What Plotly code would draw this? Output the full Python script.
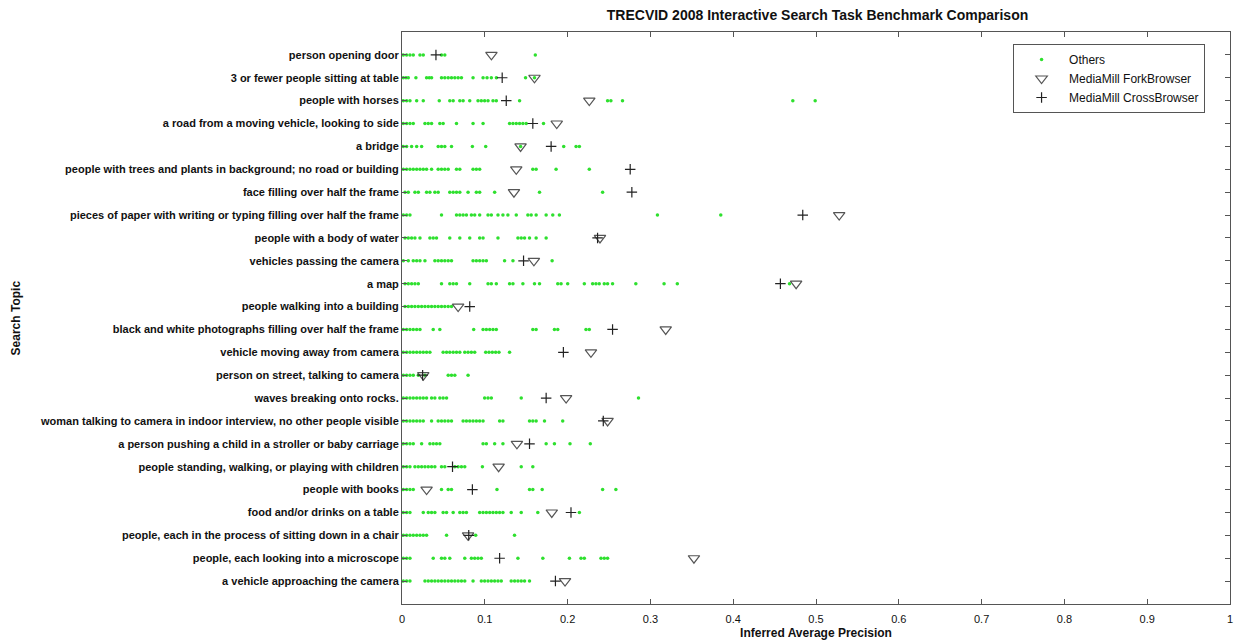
import plotly.graph_objects as go

# Search topics, top to bottom
topics = [
    "person opening door",
    "3 or fewer people sitting at table",
    "people with horses",
    "a road from a moving vehicle, looking to side",
    "a bridge",
    "people with trees and plants in background; no road or building",
    "face filling over half the frame",
    "pieces of paper with writing or typing filling over half the frame",
    "people with a body of water",
    "vehicles passing the camera",
    "a map",
    "people walking into a building",
    "black and white photographs filling over half the frame",
    "vehicle moving away from camera",
    "person on street, talking to camera",
    "waves breaking onto rocks.",
    "woman talking to camera in indoor interview, no other people visible",
    "a person pushing a child in a stroller or baby carriage",
    "people standing, walking, or playing with children",
    "people with books",
    "food and/or drinks on a table",
    "people, each in the process of sitting down in a chair",
    "people, each looking into a microscope",
    "a vehicle approaching the camera",
]

# Inferred average precision of the other submitted runs, per topic
others = [
    [.0016, .0056, .0096, .0136, .0217, .0257, .0477, .0517, .161],
    [.0016, .0048, .0076, .0168, .0297, .0329, .0357, .0477, .0517, .0558, .0598, .0638, .0678, .0718,
     .0858, .0979, .1027, .1079, .114, .1492, .160],
    [.0016, .0056, .0096, .0177, .0257, .045, .0577, .0618, .0698, .0738, .0818, .0918, .0958, .0998,
     .1039, .1099, .1139, .142, .2483, .2523, .2663, .472, .499],
    [.0016, .0056, .0096, .0136, .0277, .0317, .0357, .0457, .0497, .0658, .0858, .0979, .1299, .134,
     .138, .142, .146, .150, .1709],
    [.0016, .0056, .0116, .0177, .0237, .0437, .0477, .0517, .0598, .085, .1011, .1432, .1953, .2102, .2142],
    [.0016, .0056, .0096, .0136, .0177, .0217, .0257, .0297, .0357, .0437, .0477, .0517, .0558, .0658,
     .0698, .0858, .0898, .0938, .158, .162, .1861, .2262],
    [.0036, .0076, .0156, .0197, .0297, .0337, .0397, .0437, .0577, .0618, .0658, .0698, .0798, .0898,
     .0938, .1119, .1661, .2423],
    [.0016, .0056, .0096, .0477, .0658, .0698, .0738, .0778, .0838, .0878, .0938, .1039, .1079, .1159,
     .1219, .1279, .138, .152, .156, .162, .1741, .1821, .1901, .3085, .385],
    [.0036, .0076, .0116, .0156, .0217, .0337, .0377, .0417, .0577, .0698, .0818, .0938, .0979, .1159,
     .140, .144, .148, .154, .162, .1741],
    [.0016, .0076, .0136, .0177, .0217, .0277, .0397, .0437, .0477, .0517, .0558, .0598, .0858, .0898,
     .0938, .0979, .1019, .1239, .134, .1813],
    [.0036, .0076, .0116, .0156, .0197, .0477, .0577, .0618, .0658, .0818, .1039, .1079, .1139, .1299,
     .134, .146, .160, .1661, .1881, .1921, .2001, .2202, .2302, .2342, .2382, .2443, .2483, .2543,
     .2824, .3165, .3325, .468],
    [.0036, .0076, .0116, .0156, .0197, .0237, .0277, .0317, .0357, .0397, .0437, .0477, .0517, .0558, .0598],
    [.0016, .0056, .0096, .0136, .0177, .0217, .0377, .0457, .0866, .0979, .1019, .1059, .1099, .1139,
     .158, .162, .1841, .1881, .2222, .2262],
    [.0016, .0056, .0096, .0136, .0177, .0217, .0257, .0297, .0337, .0497, .0538, .0577, .0618, .0658,
     .0698, .0758, .0798, .0838, .0878, .1011, .1051, .1091, .1131, .1171, .1299],
    [.0016, .0056, .0096, .0136, .0197, .0277, .0558, .0598, .0638, .0798],
    [.0016, .0056, .0096, .0136, .0177, .0217, .0257, .0297, .0357, .0397, .0457, .0497, .0538, .0998,
     .1039, .1079, .144, .2856],
    [.0016, .0056, .0096, .0136, .0177, .0217, .0257, .0357, .0437, .0477, .0517, .0558, .0598, .0738,
     .0778, .0818, .0858, .0898, .0938, .0979, .1179, .1219, .154, .158, .162, .1721, .1941],
    [.0016, .0056, .0096, .0136, .0237, .0337, .0377, .0417, .0457, .0979, .1019, .1119, .1219, .1741,
     .1841, .2029, .2274],
    [.0016, .0056, .0096, .0156, .0197, .0237, .0277, .0317, .0357, .0397, .0477, .0517, .0638, .0678,
     .0718, .0758, .0971, .144, .158],
    [.0016, .0056, .0096, .0136, .0477, .0558, .0598, .1147, .154, .158, .1693, .2423, .2583],
    [.0016, .0056, .0096, .0257, .0317, .0357, .0397, .0497, .0538, .0618, .0698, .0738, .0778, .0938,
     .0979, .1019, .1059, .1099, .1139, .1179, .1219, .1319, .144, .164, .2142],
    [.0016, .0056, .0096, .0136, .0177, .0217, .0257, .0297, .0538, .089, .1359],
    [.0016, .0056, .0096, .0377, .0477, .0517, .0577, .0758, .0838, .0878, .0918, .0958, .140, .1701,
     .2022, .2162, .2202, .2403, .2443, .2483],
    [.0016, .0056, .0096, .0277, .0317, .0357, .0397, .0437, .0477, .0517, .0558, .0598, .0638, .0678,
     .0718, .0758, .0858, .0958, .0998, .1039, .1079, .1119, .1159, .1199, .1319, .136, .140, .144,
     .148, .154],
]

# MediaMill ForkBrowser and CrossBrowser runs, per topic
fork_browser = [.108, .160, .2262, .1869, .1432, .138, .1352, .528, .2391, .1593, .476, .0678,
                .3185, .2282, .0257, .1982, .2483, .1388, .1167, .0297, .1809, .0798, .3526, .1969]
cross_browser = [.041, .121, .1259, .158, .1801, .2756, .2776, .484, .2362, .1468, .457, .0818,
                 .2543, .1949, .0249, .1741, .2431, .154, .061, .085, .2041, .0806, .1179, .1853]

rows = list(range(1, len(topics) + 1))
others_x = [v for vals in others for v in vals]
others_y = [r for r, vals in zip(rows, others) for _ in vals]

font_family = "Liberation Sans, Arial, sans-serif"

fig = go.Figure()
fig.add_trace(go.Scatter(
    x=others_x, y=others_y, mode="markers", name="Others",
    marker=dict(symbol="circle", size=3.5, color="#2ee02e", line=dict(width=0)),
))
fig.add_trace(go.Scatter(
    x=fork_browser, y=rows, mode="markers", name="MediaMill ForkBrowser",
    marker=dict(symbol="triangle-down-open", size=10, color="#555555", line=dict(width=1.2)),
))
fig.add_trace(go.Scatter(
    x=cross_browser, y=rows, mode="markers", name="MediaMill CrossBrowser",
    marker=dict(symbol="cross-thin-open", size=7.5, color="#222222", line=dict(width=1.2)),
))

axis_common = dict(
    showgrid=False, zeroline=False, showline=True, linecolor="#555555", linewidth=1,
    mirror="ticks", ticks="inside", ticklen=5, tickcolor="#555555",
)

fig.update_layout(
    width=1237, height=642,
    margin=dict(l=402, r=4, t=32, b=38),
    paper_bgcolor="white", plot_bgcolor="white",
    font=dict(family=font_family, color="#111111"),
    title=dict(
        text="<b>TRECVID 2008 Interactive Search Task Benchmark Comparison</b>",
        x=(402 + 1233) / 2 / 1237, xanchor="center", y=1 - 15 / 642, yanchor="middle",
        font=dict(size=14, family=font_family, color="#111111"),
    ),
    xaxis=dict(
        range=[0, 1], tickvals=[0, .1, .2, .3, .4, .5, .6, .7, .8, .9, 1],
        ticktext=["0", "0.1", "0.2", "0.3", "0.4", "0.5", "0.6", "0.7", "0.8", "0.9", "1"],
        tickfont=dict(family=font_family, size=11, color="#111111"),
        ticklabelstandoff=5,
        title=dict(text="<b>Inferred Average Precision</b>", standoff=4,
                   font=dict(size=12, family=font_family, color="#111111")),
        **axis_common,
    ),
    yaxis=dict(
        range=[25, 0], tickvals=rows, ticktext=topics,
        tickfont=dict(family=font_family, size=11, color="#111111", weight="bold"),
        **axis_common,
    ),
    annotations=[dict(
        text="<b>Search Topic</b>", textangle=-90, xref="paper", yref="paper",
        x=-(402 - 15) / 831, y=0.5, xanchor="center", yanchor="middle", showarrow=False,
        font=dict(size=12, family=font_family, color="#111111"),
    )],
    legend=dict(
        x=0.738, y=0.979, xanchor="left", yanchor="top",
        bgcolor="white", bordercolor="#555555", borderwidth=1,
        font=dict(size=12, family=font_family, color="#111111"),
        tracegroupgap=0, itemwidth=45,
    ),
    showlegend=True,
)

fig.write_html("out.html")
